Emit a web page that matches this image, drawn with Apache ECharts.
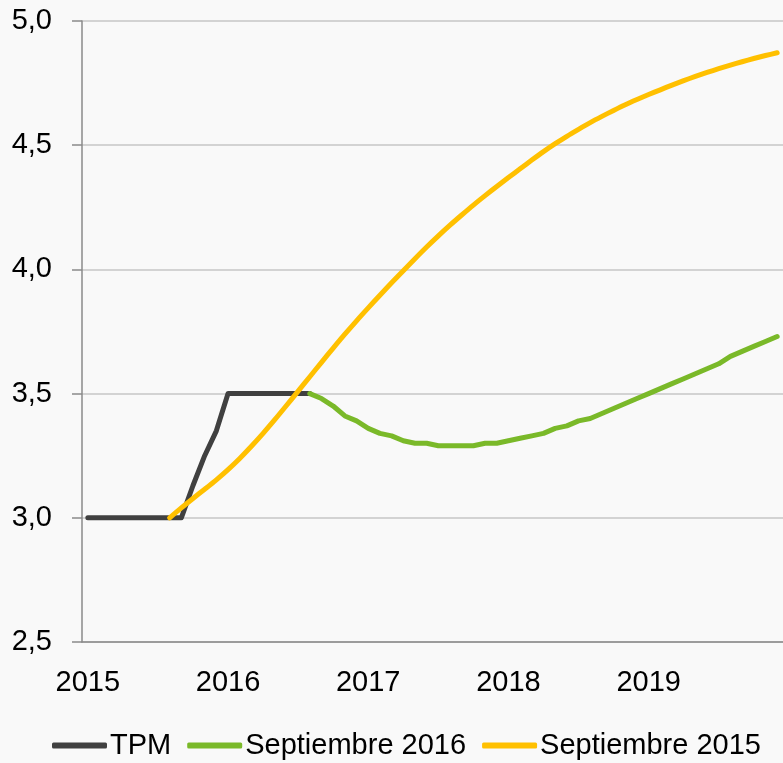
<!DOCTYPE html>
<html>
<head>
<meta charset="utf-8">
<script src="https://cdn.jsdelivr.net/npm/echarts@6/dist/echarts.min.js"></script>
<style>
  html, body { margin: 0; padding: 0; background: #f9f9f9; }
  #chart { width: 783px; height: 763px; }
</style>
</head>
<body>
<div id="chart"></div>
<script>
// meses ene-2015 .. dic-2019
const years = ['2015', '2016', '2017', '2018', '2019']
const months = []
years.forEach(y => {
  for (let m = 1; m <= 12; m++) months.push(y + '-' + String(m).padStart(2, '0'))
})

const tpm = [
  3.00, 3.00, 3.00, 3.00, 3.00, 3.00, 3.00, 3.00, 3.00, 3.13, 3.25, 3.35,
  3.50, 3.50, 3.50, 3.50, 3.50, 3.50, 3.50, 3.50
]

// Septiembre 2016 desde ago-2016
const sep2016 = [
  3.50, 3.48, 3.45, 3.41, 3.39,
  3.36, 3.34, 3.33, 3.31, 3.30, 3.30, 3.29, 3.29, 3.29, 3.29, 3.30, 3.30,
  3.31, 3.32, 3.33, 3.34, 3.36, 3.37, 3.39, 3.40, 3.42, 3.44, 3.46, 3.48,
  3.50, 3.52, 3.54, 3.56, 3.58, 3.60, 3.62, 3.65, 3.67, 3.69, 3.71, 3.73
]

// Septiembre 2015 desde ago-2015
const sep2015 = [
  3.000, 3.040, 3.078, 3.115, 3.153,
  3.194, 3.239, 3.288, 3.340, 3.395, 3.452, 3.510, 3.568, 3.626, 3.683, 3.739, 3.793,
  3.845, 3.896, 3.946, 3.995, 4.043, 4.090, 4.135, 4.178, 4.219, 4.259, 4.297, 4.334,
  4.370, 4.405, 4.440, 4.474, 4.506, 4.536, 4.564, 4.591, 4.616, 4.640, 4.663, 4.684,
  4.704, 4.723, 4.742, 4.760, 4.777, 4.793, 4.808, 4.822, 4.836, 4.849, 4.861, 4.872
]

const pad = (arr, start) => months.map((m, i) => (i >= start && i - start < arr.length) ? arr[i - start] : null)

const font = 'Liberation Sans, Arial, sans-serif'

const chart = echarts.init(document.getElementById('chart'))
chart.setOption({
  backgroundColor: '#f9f9f9',
  animation: false,
  grid: { left: 82, right: 0, top: 21, bottom: 121 },
  legend: {
    left: 52,
    top: 731,
    padding: 0,
    itemWidth: 55,
    itemHeight: 6,
    itemGap: 16,
    icon: 'roundRect',
    textStyle: { fontFamily: font, fontSize: 29, color: '#000', padding: [0, 0, 0, -2] },
    data: ['TPM', 'Septiembre 2016', 'Septiembre 2015']
  },
  xAxis: {
    type: 'category',
    data: months,
    boundaryGap: true,
    axisLine: { lineStyle: { color: '#8a8a8a', width: 1.5 } },
    axisTick: { interval: 11, length: 10, lineStyle: { color: '#8a8a8a', width: 1.5 } },
    axisLabel: {
      interval: 11,
      margin: 26,
      fontFamily: font,
      fontSize: 29,
      color: '#000',
      formatter: v => v.slice(0, 4)
    },
    splitLine: { show: false }
  },
  yAxis: {
    type: 'value',
    min: 2.5,
    max: 5,
    interval: 0.5,
    axisLine: { show: true, lineStyle: { color: '#8a8a8a', width: 1.5 } },
    axisTick: { show: true, length: 10, lineStyle: { color: '#8a8a8a', width: 1.5 } },
    axisLabel: {
      margin: 30,
      fontFamily: font,
      fontSize: 29,
      color: '#000',
      formatter: v => v.toFixed(1).replace('.', ',')
    },
    splitLine: { lineStyle: { color: '#c6c6c6', width: 1.5 } }
  },
  series: [
    {
      name: 'TPM',
      type: 'line',
      data: pad(tpm, 0),
      showSymbol: false,
      symbol: 'none',
      color: '#404040',
      lineStyle: { width: 5, cap: 'round', join: 'round' }
    },
    {
      name: 'Septiembre 2016',
      type: 'line',
      data: pad(sep2016, 19),
      showSymbol: false,
      symbol: 'none',
      color: '#7ab929',
      lineStyle: { width: 5, cap: 'round', join: 'round' }
    },
    {
      name: 'Septiembre 2015',
      type: 'line',
      data: pad(sep2015, 7),
      showSymbol: false,
      symbol: 'none',
      smooth: 0.3,
      color: '#ffc000',
      lineStyle: { width: 5, cap: 'round', join: 'round' }
    }
  ]
})
</script>
</body>
</html>
